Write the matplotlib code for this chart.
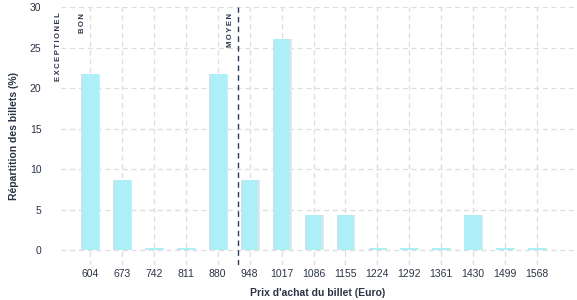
import matplotlib
matplotlib.use("Agg")
import matplotlib.pyplot as plt
import numpy as np

plt.rcParams['font.family'] = ['Liberation Sans', 'DejaVu Sans']

prices = ["604", "673", "742", "811", "880", "948", "1017", "1086", "1155",
          "1224", "1292", "1361", "1430", "1499", "1568"]
shares = [21.7, 8.7, 0, 0, 21.7, 8.7, 26.1, 4.3, 4.3, 0, 0, 0, 4.3, 0, 0]
zero_stub = 0.2
moyen_pos = 4.63
bon_pos = -0.25
excep_pos = -1.0

text_col = "#2b3344"
bar_col = "#aeeef8"

fig = plt.figure(figsize=(5.77, 3.0), dpi=100)
ax = fig.add_axes([61/577, 1-265/300, (574-61)/577, (265-7)/300])

x = np.arange(len(prices))
heights = [v if v > 0 else zero_stub for v in shares]
# subtle shadow
ax.bar(x + 0.04, heights, width=0.55, color="#e2e6ea", zorder=2)
ax.bar(x, heights, width=0.55, color=bar_col, zorder=3)

ax.set_xlim(-0.91, 15.16)
ax.set_ylim(-1.85, 30)
ax.set_xticks(np.arange(0, 15))
ax.set_xticklabels(prices)
ax.set_yticks([0, 5, 10, 15, 20, 25, 30])
ax.grid(True, color="#dddddd", linestyle=(0, (4, 3)), linewidth=0.9, zorder=0)
for s in ax.spines.values():
    s.set_visible(False)
ax.tick_params(length=0, colors=text_col, labelsize=7.5)
ax.tick_params(axis='x', pad=3)
ax.tick_params(axis='y', pad=14)

ax.axvline(moyen_pos, color="#2e3a4f", linestyle=(0, (4, 3)), linewidth=1.0, zorder=4)

def spaced(s):
    return "\u2009".join(s)

kw = dict(rotation=90, va="top", ha="center", fontsize=5.5, fontweight="bold",
          color=text_col, zorder=5, clip_on=False)
ax.text(excep_pos, 29.3, spaced("EXCEPTIONEL"), **kw)
ax.text(bon_pos, 29.3, spaced("BON"), **kw)
ax.text(moyen_pos - 0.24, 29.3, spaced("MOYEN"), **kw)

ax.set_xlabel("Prix d'achat du billet (Euro)", fontsize=7.5, fontweight="bold",
              color=text_col, labelpad=6)
ax.set_ylabel("Répartition des billets (%)", fontsize=7.5, fontweight="bold",
              color=text_col, labelpad=8)

fig.savefig("out.png", dpi=100)
